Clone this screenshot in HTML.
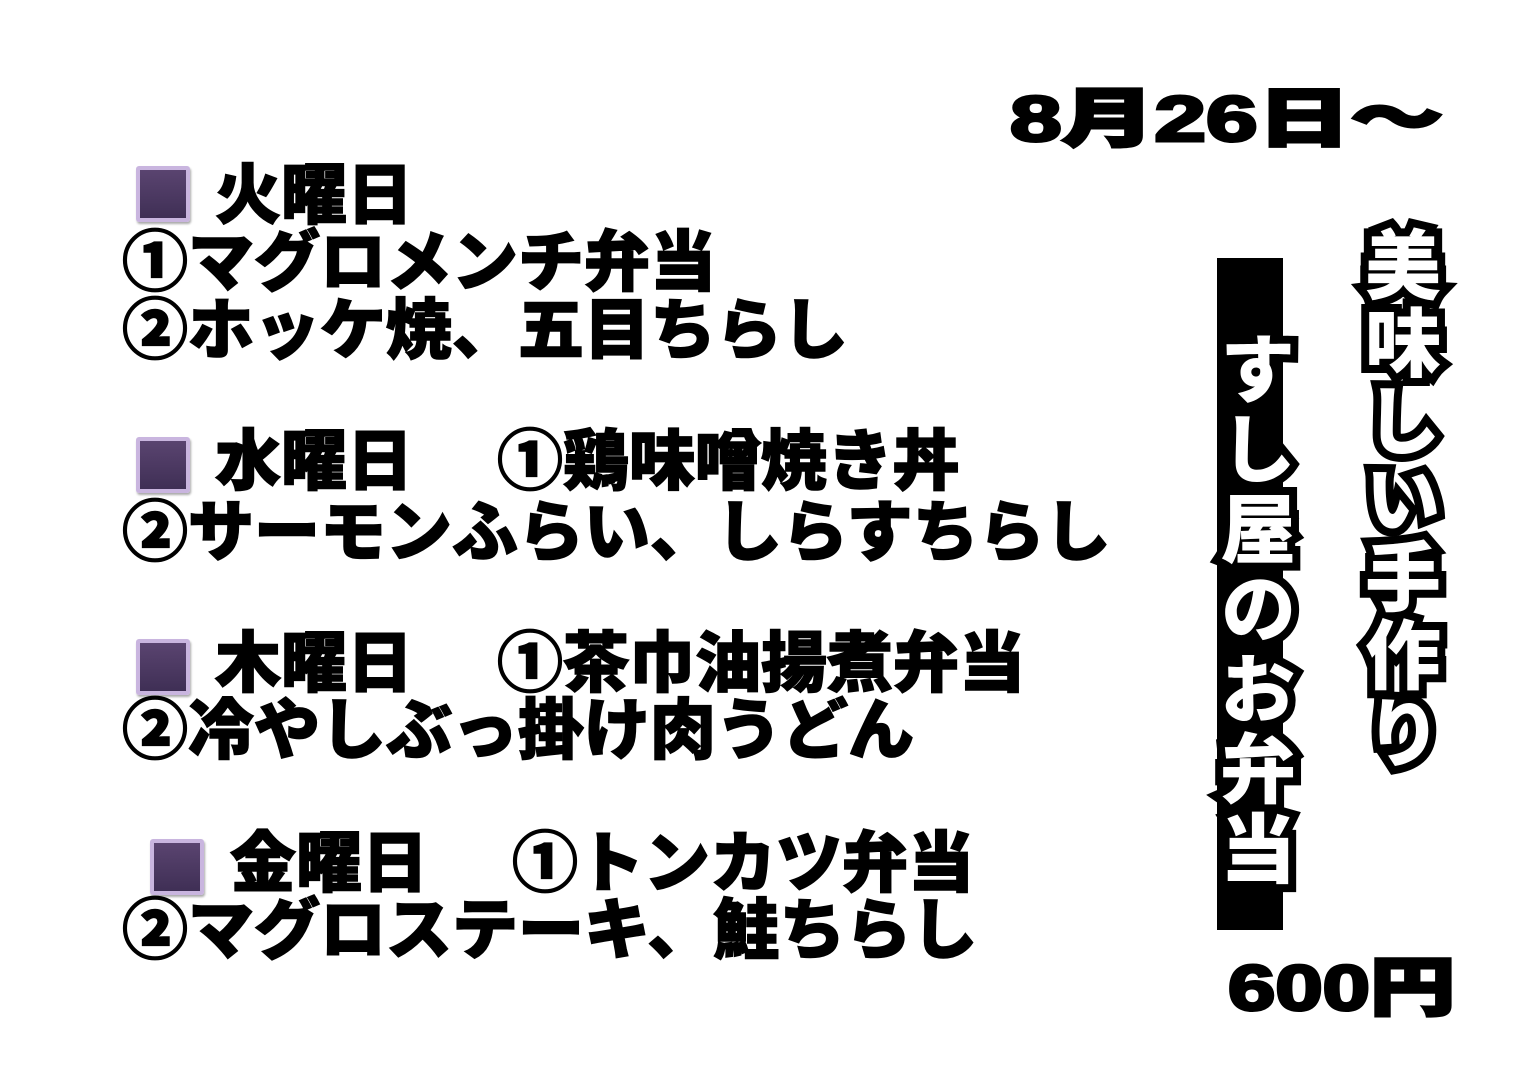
<!DOCTYPE html>
<html><head><meta charset="utf-8"><style>
body{margin:0;width:1536px;height:1087px;background:#fff;position:relative;overflow:hidden;font-family:"Liberation Sans","Noto Sans CJK JP",sans-serif;font-weight:bold;color:#000}
.t{position:absolute;font-size:66px;line-height:66px;white-space:nowrap;font-weight:900;-webkit-text-stroke:1.5px #000}
.sq{position:absolute;width:46px;height:48px;background:linear-gradient(#5a4470,#3f2f55);border:4px solid #c9b5df;border-radius:3px;box-shadow:1px 2px 2px #aaa}
.v{position:absolute;writing-mode:vertical-rl;text-orientation:upright;font-size:76px;line-height:90px;color:#fff;-webkit-text-stroke:16px #000;paint-order:stroke fill;font-weight:900;letter-spacing:2px;stroke-linejoin:round}
</style></head><body>
<div class="t" style="left:1010px;top:86px;font-size:64px;transform:scaleX(1.45);transform-origin:0 0;-webkit-text-stroke:3px #000">8月26日～</div>

<div class="sq" style="left:136px;top:166px"></div>
<div class="t" style="left:215px;top:162px">火曜日</div>
<div class="t" style="left:122px;top:229px">①マグロメンチ弁当</div>
<div class="t" style="left:122px;top:297px">②ホッケ焼、五目ちらし</div>

<div class="sq" style="left:136px;top:437px"></div>
<div class="t" style="left:215px;top:428px">水曜日</div>
<div class="t" style="left:497px;top:428px">①鶏味噌焼き丼</div>
<div class="t" style="left:122px;top:499px">②サーモンふらい、しらすちらし</div>

<div class="sq" style="left:136px;top:639px"></div>
<div class="t" style="left:215px;top:630px">木曜日</div>
<div class="t" style="left:497px;top:630px">①茶巾油揚煮弁当</div>
<div class="t" style="left:122px;top:697px">②冷やしぶっ掛け肉うどん</div>

<div class="sq" style="left:150px;top:839px"></div>
<div class="t" style="left:230px;top:830px">金曜日</div>
<div class="t" style="left:512px;top:830px">①トンカツ弁当</div>
<div class="t" style="left:122px;top:897px">②マグロステーキ、鮭ちらし</div>

<div style="position:absolute;left:1217px;top:258px;width:66px;height:672px;background:#000"></div>
<div class="v" style="left:1205px;top:330px;letter-spacing:4px">すし屋のお弁当</div>
<div class="v" style="left:1350px;top:226px">美味しい手作り</div>

<div class="t" style="left:1228px;top:955px;font-size:64px;transform:scaleX(1.33);transform-origin:0 0;-webkit-text-stroke:3px #000">600円</div>
</body></html>
